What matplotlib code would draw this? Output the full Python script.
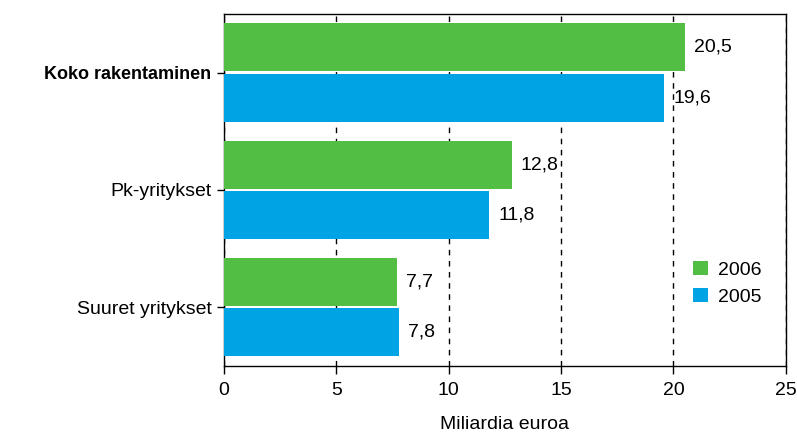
import matplotlib.pyplot as plt
import numpy as np

plt.rcParams['font.family'] = ['Liberation Sans', 'DejaVu Sans']

# Data
kategoriat = ['Koko rakentaminen', 'Pk-yritykset', 'Suuret yritykset']
arvot_2006 = [20.5, 12.8, 7.7]
arvot_2005 = [19.6, 11.8, 7.8]
xtiks = [0, 5, 10, 15, 20, 25]

vihrea = '#52be44'
sininen = '#00a4e4'
fs = 14

fig = plt.figure(figsize=(7.97, 4.36), dpi=100)
ax = fig.add_axes([0.281, 0.161, 0.705, 0.807])

y = np.arange(len(kategoriat))
h = 0.41
ax.barh(y - h / 2 - 0.01, arvot_2006, height=h, color=vihrea, label='2006', zorder=3)
ax.barh(y + h / 2 + 0.01, arvot_2005, height=h, color=sininen, label='2005', zorder=3)

for yi, v in zip(y, arvot_2006):
    ax.text(v + 0.4, yi - h / 2 - 0.01, f'{v:.1f}'.replace('.', ','), va='center', fontsize=fs, zorder=4)
for yi, v in zip(y, arvot_2005):
    ax.text(v + 0.4, yi + h / 2 + 0.01, f'{v:.1f}'.replace('.', ','), va='center', fontsize=fs, zorder=4)

ax.set_ylim(2.5, -0.5)
ax.set_xlim(0, 25)
ax.set_xticks(xtiks)
ax.set_xticklabels([str(t) for t in xtiks], fontsize=fs)
ax.set_yticks(y)
ax.set_yticklabels(kategoriat, fontsize=fs)
ax.get_yticklabels()[0].set_fontweight('bold')
ax.get_yticklabels()[0].set_fontsize(13)
ax.tick_params(axis='y', length=5, width=1, pad=4)
ax.tick_params(axis='x', length=6, width=1, pad=6)
ax.set_xlabel('Miliardia euroa', fontsize=fs, labelpad=12)

ax.grid(axis='x', color='black', linestyle=(0, (4, 4)), linewidth=1, zorder=1)
for s in ax.spines.values():
    s.set_linewidth(1)

ax.legend(loc='lower right', frameon=False, fontsize=fs, handlelength=0.8, handleheight=0.7,
          handletextpad=0.5, bbox_to_anchor=(0.988, 0.12), labelspacing=0.5)

fig.savefig('out.png', dpi=100)
